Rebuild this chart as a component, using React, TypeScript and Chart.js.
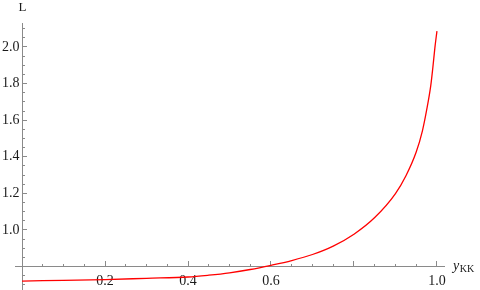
import React, { useEffect, useRef } from "react";
import { Chart, registerables } from "chart.js";

Chart.register(...registerables);

const xValues = [0, 0.1, 0.2, 0.3, 0.4, 0.45, 0.5, 0.55, 0.6, 0.65, 0.7, 0.75, 0.8, 0.85, 0.9, 0.925, 0.95, 0.965, 0.975, 0.985, 0.99, 0.995, 1.0];
const lValues = [0.721, 0.725, 0.729, 0.736, 0.743, 0.753, 0.766, 0.784, 0.807, 0.833, 0.866, 0.912, 0.977, 1.068, 1.199, 1.295, 1.426, 1.542, 1.653, 1.787, 1.885, 1.995, 2.087];

const xMajorStep = 0.2;
const xMinorStep = 0.05;
const yMajorStep = 0.2;
const yMinorStep = 0.05;
const xRange = [-0.017, 1.017];
const yRange = [0.672, 2.131];
const axisCross = { x: 0, y: 0.8 };
const yAxisTitle = "L";
const xAxisTitleMain = "y";
const xAxisTitleSub = "KK";

const AXIS = "#8a8a8a";
const TEXT = "#1a1a1a";
const FONT = "'Liberation Serif', 'DejaVu Serif', serif";

const fmt = (v: number) => (Math.abs(v - axisCross.y) < 1e-9 || Math.abs(v) < 1e-9 ? "" : v.toFixed(1));

const titlePlugin = {
  id: "axisTitles",
  afterDraw(chart: any) {
    const ctx = chart.ctx;
    const xs = chart.scales.x;
    const ys = chart.scales.y;
    const x0 = xs.getPixelForValue(axisCross.x);
    const y0 = ys.getPixelForValue(axisCross.y);
    ctx.save();
    ctx.fillStyle = TEXT;
    ctx.textBaseline = "alphabetic";
    ctx.textAlign = "center";
    ctx.font = `13px ${FONT}`;
    ctx.fillText(yAxisTitle, x0 + 0.5, chart.chartArea.top - 12);
    ctx.textAlign = "left";
    ctx.font = `italic 14px ${FONT}`;
    const tx = xs.right + 9;
    ctx.fillText(xAxisTitleMain, tx, y0 + 3);
    const w = ctx.measureText(xAxisTitleMain).width;
    ctx.font = `10px ${FONT}`;
    ctx.fillText(xAxisTitleSub, tx + w + 0.5, y0 + 5);
    ctx.restore();
  },
};

export default function App() {
  const ref = useRef<HTMLCanvasElement | null>(null);
  useEffect(() => {
    if (!ref.current) return;
    const chart = new Chart(ref.current, {
      type: "line",
      data: {
        datasets: [
          {
            data: xValues.map((x, i) => ({ x, y: lValues[i] })),
            borderColor: "rgb(255,0,0)",
            borderWidth: 1.3,
            pointRadius: 0,
            cubicInterpolationMode: "monotone",
            fill: false,
            xAxisID: "x",
            yAxisID: "y",
          },
        ],
      },
      options: {
        animation: false,
        responsive: true,
        maintainAspectRatio: false,
        layout: { padding: { left: 0, right: 36, top: 23, bottom: 0 } },
        plugins: { legend: { display: false }, tooltip: { enabled: false } },
        scales: {
          x: {
            type: "linear",
            position: { y: axisCross.y } as any,
            min: xRange[0],
            max: xRange[1],
            border: { display: true, color: AXIS, width: 1 },
            grid: { drawOnChartArea: false, tickLength: -6, tickColor: AXIS, tickWidth: 1 },
            ticks: {
              stepSize: xMajorStep,
              includeBounds: false,
              autoSkip: false,
              maxRotation: 0,
              padding: 12,
              color: TEXT,
              font: { family: FONT, size: 14 },
              callback: (v: any) => fmt(Number(v)),
            },
            afterFit: (s: any) => { s.height = 0; },
          },
          xm: {
            type: "linear",
            position: { y: axisCross.y } as any,
            min: xRange[0],
            max: xRange[1],
            border: { display: false },
            grid: { drawOnChartArea: false, tickLength: -3, tickColor: AXIS, tickWidth: 1 },
            ticks: { display: false, stepSize: xMinorStep, includeBounds: false, autoSkip: false },
            afterFit: (s: any) => { s.height = 0; },
          },
          y: {
            type: "linear",
            position: { x: axisCross.x } as any,
            min: yRange[0],
            max: yRange[1],
            border: { display: true, color: AXIS, width: 1 },
            grid: { drawOnChartArea: false, tickLength: -5, tickColor: AXIS, tickWidth: 1 },
            ticks: { display: false, stepSize: yMajorStep, includeBounds: false, autoSkip: false },
            afterFit: (s: any) => { s.width = 0; },
          },
          ym: {
            type: "linear",
            position: { x: axisCross.x } as any,
            min: yRange[0],
            max: yRange[1],
            border: { display: false },
            grid: { drawOnChartArea: false, tickLength: -3, tickColor: AXIS, tickWidth: 1 },
            ticks: { display: false, stepSize: yMinorStep, includeBounds: false, autoSkip: false },
            afterFit: (s: any) => { s.width = 0; },
          },
          yl: {
            type: "linear",
            position: "left",
            min: yRange[0],
            max: yRange[1],
            border: { display: false },
            grid: { display: false, drawTicks: false, tickLength: 0 },
            ticks: {
              stepSize: yMajorStep,
              includeBounds: false,
              autoSkip: false,
              mirror: true,
              padding: -13,
              color: TEXT,
              font: { family: FONT, size: 14 },
              callback: (v: any) => fmt(Number(v)),
            },
            afterFit: (s: any) => { s.width = 15; },
          },
        },
      },
      plugins: [titlePlugin],
    });
    return () => chart.destroy();
  }, []);
  return (
    <div style={{ position: "fixed", left: 0, top: 0, width: 480, height: 290, background: "#fff" }}>
      <canvas ref={ref} />
    </div>
  );
}
